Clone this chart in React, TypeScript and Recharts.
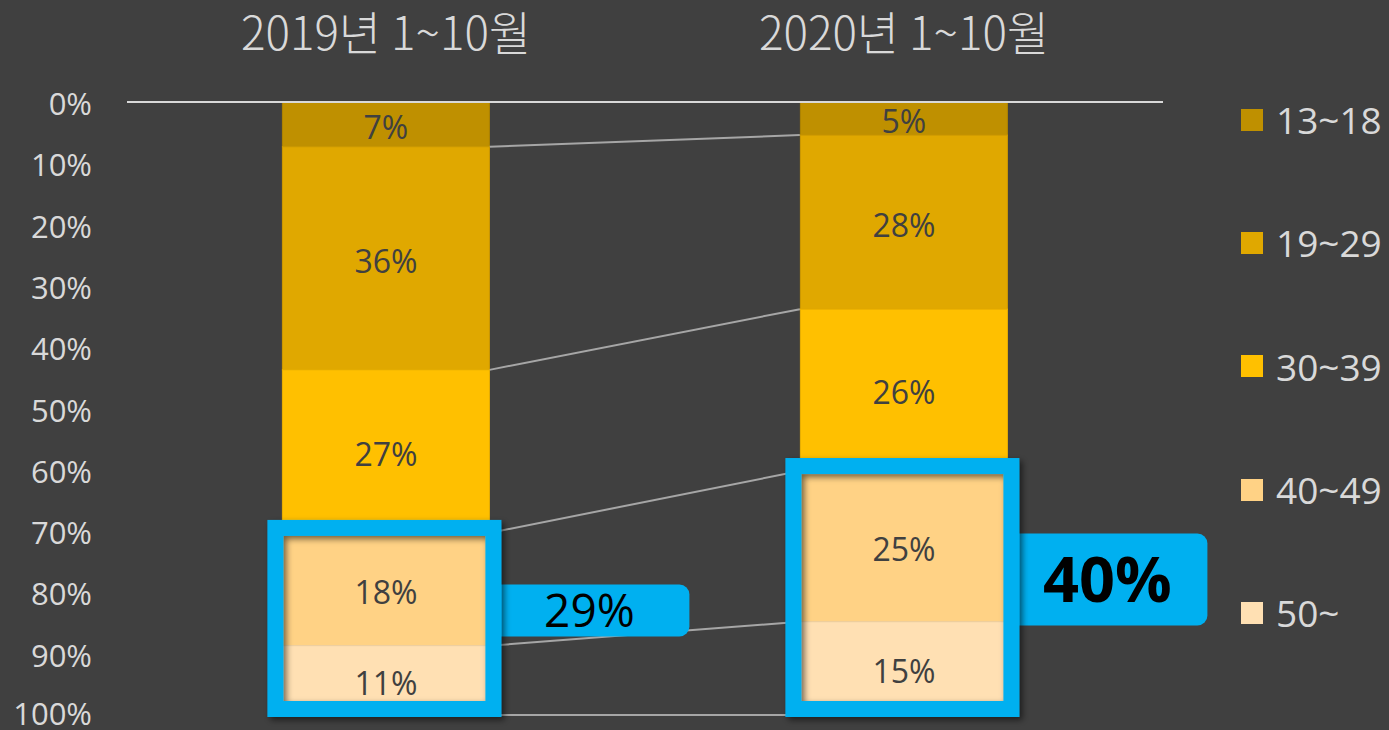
import React from 'react'
import { BarChart, Bar, XAxis, YAxis, Legend, LabelList } from 'recharts'

const periods = ['2019년 1~10월', '2020년 1~10월']
const ageGroups = ['13~18', '19~29', '30~39', '40~49', '50~']
const age13to18 = [7.3, 5.4]
const age19to29 = [36.4, 28.4]
const age30to39 = [26.6, 26.4]
const age40to49 = [18.4, 24.6]
const age50plus = [11.3, 15.2]
const highlightLabels = ['29%', '40%']
const yTicks = [0, 10, 20, 30, 40, 50, 60, 70, 80, 90, 100]

const seriesValues = [age13to18, age19to29, age30to39, age40to49, age50plus]
const colors = ['#BF9000', '#E0A800', '#FFC000', '#FFD285', '#FFE0B3']
const edgeColors = ['#B08400', '#CF9B00', '#EDB200', '#EFC47C', '#EFD2A8']

const BG = '#404040'
const TEXT = '#D9D9D9'
const BLUE = '#00B0F0'
const FONT = '"Open Sans", "Noto Sans", sans-serif'
const CATEGORY_GAP = 0.3

// first callout is plain, second one is the emphasised one
const calloutStyles = [
  { height: 52, fontSize: 46, fontWeight: 400 },
  { height: 92, fontSize: 63, fontWeight: 700 },
]

const data = periods.map((period, i) => {
  const row: Record<string, string | number> = { period }
  ageGroups.forEach((g, k) => { row[g] = seriesValues[k][i] })
  return row
})

const cumulative = (upTo: number, i: number) =>
  seriesValues.slice(0, upTo).reduce((s, arr) => s + arr[i], 0)

function makeSegment(k: number) {
  return (props: any) => {
    const { x, y, width, height, index, fill } = props
    const top = Math.min(y, y + height)
    const h = Math.abs(height)
    const ppu = h / seriesValues[k][index]
    const zero = top - cumulative(k, index) * ppu
    const yAt = (v: number) => zero + v * ppu
    const band = width / (1 - 2 * CATEGORY_GAP)
    const last = k === seriesValues.length - 1

    let connector = null
    if (index === 0) {
      connector = (
        <line
          x1={x + width}
          y1={yAt(cumulative(k + 1, 0))}
          x2={x + band}
          y2={yAt(cumulative(k + 1, 1))}
          stroke="#A6A6A6"
          strokeWidth={2}
        />
      )
    }

    let highlight = null
    if (last) {
      const boxTop = yAt(cumulative(k - 1, index)) - 5
      const boxBottom = yAt(100) - 6
      const mid = (boxTop + boxBottom) / 2 - 8
      const st = calloutStyles[index]
      const cx = x + width + 100
      highlight = (
        <g>
          <defs>
            <filter id={`boxShadow${index}`} x="-20%" y="-20%" width="140%" height="140%">
              <feDropShadow dx={3} dy={3} stdDeviation={3} floodColor="#000" floodOpacity={0.55} />
            </filter>
          </defs>
          <rect x={x + width} y={mid - st.height / 2} width={200} height={st.height} rx={10} fill={BLUE} />
          <text
            x={cx}
            y={mid}
            dy="0.36em"
            textAnchor="middle"
            fontFamily={FONT}
            fontSize={st.fontSize}
            fontWeight={st.fontWeight}
            fill="#000"
          >
            {highlightLabels[index]}
          </text>
          <rect
            x={x - 7}
            y={boxTop}
            width={width + 11}
            height={boxBottom - boxTop}
            fill="none"
            stroke={BLUE}
            strokeWidth={16}
            filter={`url(#boxShadow${index})`}
          />
        </g>
      )
    }

    return (
      <g>
        <rect x={x} y={top} width={width} height={h} fill={fill} stroke={edgeColors[k]} strokeWidth={1} />
        {connector}
        {highlight}
      </g>
    )
  }
}

function PeriodTick(props: any) {
  const { x, y, payload } = props
  return (
    <text
      x={x}
      y={y}
      textAnchor="middle"
      fontFamily='"Noto Sans CJK KR", sans-serif'
      fontSize={46}
      fontWeight={300}
      fill={TEXT}
      textLength={290}
      lengthAdjust="spacingAndGlyphs"
    >
      {payload.value}
    </text>
  )
}

function AgeLegend() {
  return (
    <div style={{ display: 'flex', flexDirection: 'column' }}>
      {ageGroups.map((g, k) => (
        <div key={g} style={{ height: 123.3, display: 'flex', alignItems: 'center' }}>
          <span style={{ width: 22, height: 22, background: colors[k], marginRight: 13, display: 'inline-block' }} />
          <span style={{ color: TEXT, fontFamily: FONT, fontSize: 37, lineHeight: 1 }}>{g}</span>
        </div>
      ))}
    </div>
  )
}

export default function App() {
  return (
    <div style={{ width: 1389, height: 730, background: BG }}>
      <style>{`body{margin:0;background:${BG};}`}</style>
      <BarChart
        width={1389}
        height={730}
        data={data}
        margin={{ top: 0, right: 226, left: 0, bottom: 15 }}
        barCategoryGap={`${CATEGORY_GAP * 100}%`}
      >
        <XAxis
          dataKey="period"
          orientation="top"
          height={102}
          tickLine={false}
          tickSize={0}
          tickMargin={52}
          axisLine={{ stroke: TEXT, strokeWidth: 2 }}
          tick={<PeriodTick />}
        />
        <YAxis
          reversed
          domain={[0, 100]}
          ticks={yTicks}
          width={127}
          tickLine={false}
          tickSize={0}
          tickMargin={35}
          axisLine={false}
          tickFormatter={(v: number) => `${v}%`}
          tick={{ fill: TEXT, fontSize: 31, fontFamily: FONT, dy: 2 }}
        />
        <Legend
          layout="vertical"
          align="center"
          verticalAlign="middle"
          wrapperStyle={{ left: 1241, top: 58, width: 148 }}
          content={() => <AgeLegend />}
        />
        {ageGroups.map((g, k) => (
          <Bar
            key={g}
            dataKey={g}
            stackId="age"
            fill={colors[k]}
            isAnimationActive={false}
            shape={makeSegment(k)}
          >
            <LabelList
              dataKey={g}
              position="center"
              fill="#404040"
              fontSize={32}
              fontFamily={FONT}
              dy={3}
              formatter={(v: any) => `${Math.round(Number(v))}%`}
            />
          </Bar>
        ))}
      </BarChart>
    </div>
  )
}
